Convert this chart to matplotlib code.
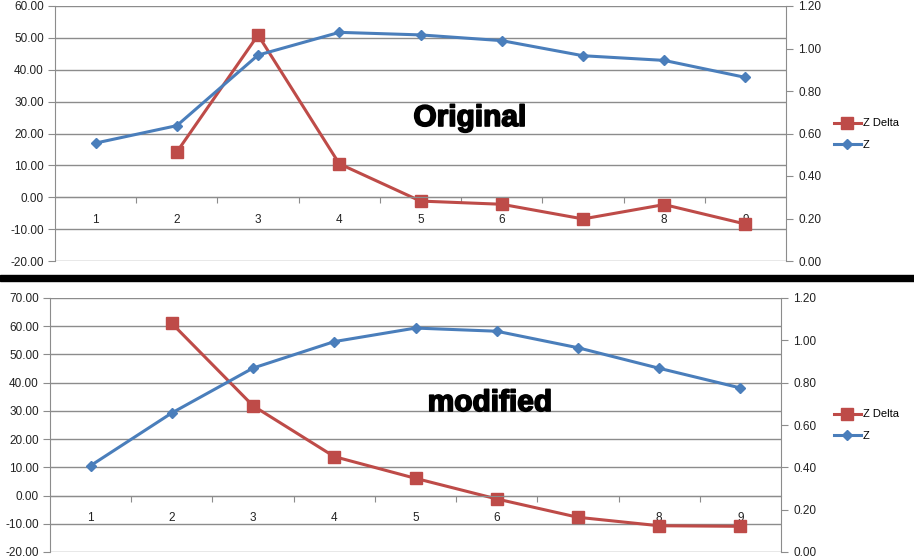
import numpy as np
import matplotlib
matplotlib.use('Agg')
import matplotlib.pyplot as plt
import matplotlib.ticker as mticker
import matplotlib.patheffects as pe
from matplotlib.patches import Rectangle

# data
cats = [1, 2, 3, 4, 5, 6, 7, 8, 9]
z_orig = [0.555, 0.637, 0.969, 1.076, 1.064, 1.037, 0.966, 0.944, 0.864]
zdelta_orig = [np.nan, 14.2, 50.9, 10.5, -1.2, -2.2, -6.8, -2.3, -8.4]
z_mod = [0.408, 0.657, 0.869, 0.994, 1.058, 1.043, 0.965, 0.868, 0.775]
zdelta_mod = [np.nan, 61.0, 31.8, 13.8, 6.1, -1.2, -7.7, -10.7, -10.9]

RED = '#BE4B48'
BLUE = '#4A7EBB'
GRID = '#8c8c8c'
TXT = '#222222'

plt.rcParams['font.family'] = ['Liberation Sans', 'DejaVu Sans']

W, H = 914, 558
fig = plt.figure(figsize=(W / 100, H / 100), dpi=100)


def px(x0, y0, x1, y1):
    # pixel box (top-left origin) -> figure fraction rect
    return [x0 / W, 1 - y1 / H, (x1 - x0) / W, (y1 - y0) / H]


def panel(rect, z, zd, ylo, yhi, label, lx, ly, legy):
    ax = fig.add_axes(rect)
    ax.set_xlim(0.5, 9.5)
    ax.set_ylim(ylo, yhi)
    ax.set_yticks(np.arange(ylo, yhi + 1, 10))
    ax.yaxis.set_major_formatter(mticker.FormatStrFormatter('%.2f'))
    ax.yaxis.grid(True, color=GRID, lw=1)
    ax.set_axisbelow(True)
    ax.spines['top'].set_visible(False)
    ax.spines['right'].set_visible(False)
    ax.spines['left'].set_color(GRID)
    ax.spines['bottom'].set_position(('data', 0))
    ax.spines['bottom'].set_color(GRID)
    # boundary ticks unlabelled, category labels on minor ticks
    ax.set_xticks(np.arange(1.5, 9.0, 1.0))
    ax.set_xticklabels([])
    ax.set_xticks(cats, minor=True)
    ax.set_xticklabels([str(c) for c in cats], minor=True)
    ax.tick_params(axis='x', which='major', length=4, color=GRID, direction='out')
    ax.tick_params(axis='x', which='minor', length=0, pad=12, labelsize=8.5, labelcolor=TXT)
    ax.tick_params(axis='y', length=5, color=GRID, labelsize=8.5, labelcolor=TXT, pad=3)

    l1, = ax.plot(cats, zd, color=RED, lw=2.2, marker='s', ms=8, label='Z Delta')

    ax2 = ax.twinx()
    ax2.set_ylim(0, 1.2)
    ax2.set_yticks(np.arange(0, 1.21, 0.2))
    ax2.yaxis.set_major_formatter(mticker.FormatStrFormatter('%.2f'))
    for s in ['top', 'left', 'bottom']:
        ax2.spines[s].set_visible(False)
    ax2.spines['right'].set_color(GRID)
    ax2.tick_params(axis='y', length=5, color=GRID, labelsize=8.5, labelcolor=TXT, pad=4)
    l2, = ax2.plot(cats, z, color=BLUE, lw=2.2, marker='D', ms=5.5, label='Z')

    fig.legend([l1, l2], ['Z Delta', 'Z'], loc='center left',
               bbox_to_anchor=(834 / W, 1 - legy / H), frameon=False,
               fontsize=8, handlelength=2.4, handletextpad=0.2, labelspacing=1.0,
               borderpad=0, borderaxespad=0)
    fig.text(lx / W, 1 - ly / H, label, ha='center', va='center',
             fontsize=21.5, fontweight='bold', color='black',
             path_effects=[pe.withStroke(linewidth=1.2, foreground='black')])
    return ax


panel(px(55, 6, 786, 261), z_orig, zdelta_orig, -20, 60, 'Original', 470, 118, 134)
panel(px(50, 298, 781, 552), z_mod, zdelta_mod, -20, 70, 'modified', 490, 403, 425)

# black separator bar
fig.patches.append(Rectangle((0, 1 - 281 / H), 1, 6 / H, transform=fig.transFigure,
                             color='black', zorder=10))

fig.savefig('out.png', dpi=100)
